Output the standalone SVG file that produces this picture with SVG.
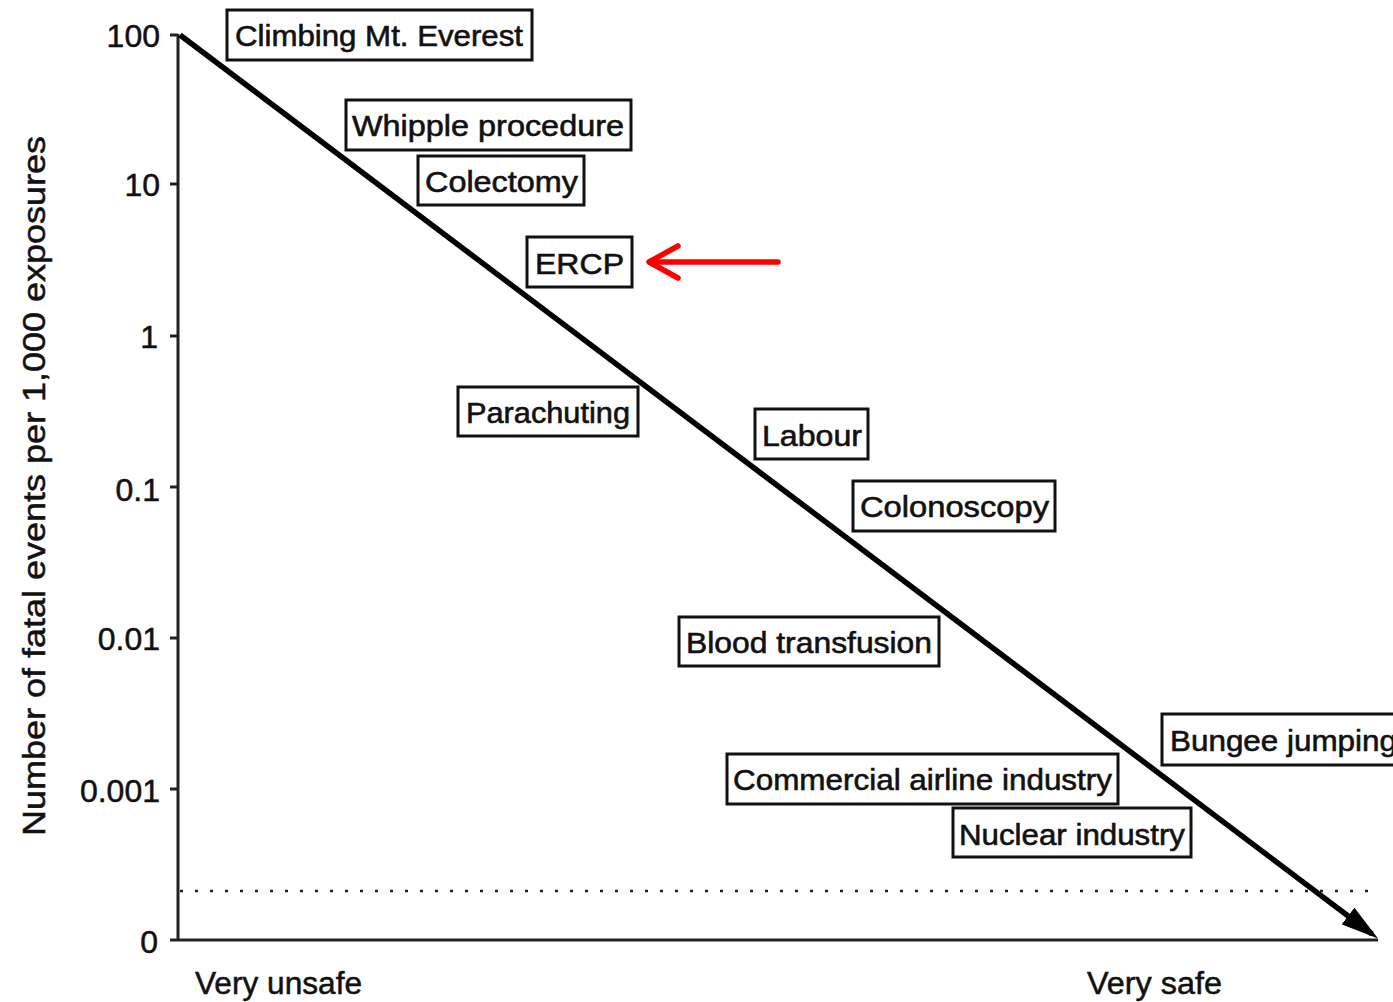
<svg xmlns="http://www.w3.org/2000/svg" width="1393" height="1002" viewBox="0 0 1393 1002">
<style>
  .box rect { fill: #fff; stroke: #111; stroke-width: 3; }
  .box text { font-family: "Liberation Sans", Arial, sans-serif; font-size: 30px; fill: #111; stroke: #111; stroke-width: 0.6; }
  .tick { font-family: "Liberation Sans", Arial, sans-serif; font-size: 32px; fill: #111; stroke: #111; stroke-width: 0.5; text-anchor: end; }
  .axis { stroke: #222; stroke-width: 3; fill: none; }
  .lbl { font-family: "Liberation Sans", Arial, sans-serif; font-size: 31px; fill: #111; stroke: #111; stroke-width: 0.5; }
</style>
<defs>
  <marker id="ah" viewBox="0 0 10 10" refX="8" refY="5" markerWidth="6.8" markerHeight="3.8" preserveAspectRatio="none" markerUnits="strokeWidth" orient="auto">
    <path d="M0,0 L10,5 L0,10 Z" fill="#000"/>
  </marker>
</defs>
<rect width="1393" height="1002" fill="#fff"/>

<g id="axes">
  <line class="axis" x1="178" y1="34" x2="178" y2="941"/>
  <line class="axis" x1="170" y1="940" x2="1378" y2="940"/>
  <g class="axis">
    <line x1="170" y1="35" x2="178" y2="35"/>
    <line x1="170" y1="184" x2="178" y2="184"/>
    <line x1="170" y1="336" x2="178" y2="336"/>
    <line x1="170" y1="487" x2="178" y2="487"/>
    <line x1="170" y1="638" x2="178" y2="638"/>
    <line x1="170" y1="789" x2="178" y2="789"/>
  </g>
  <text class="tick" x="160" y="47">100</text>
  <text class="tick" x="160" y="196">10</text>
  <text class="tick" x="158" y="348">1</text>
  <text class="tick" x="160" y="501">0.1</text>
  <text class="tick" x="160" y="650">0.01</text>
  <text class="tick" x="160" y="802">0.001</text>
  <text class="tick" x="158" y="953">0</text>
  <line x1="180" y1="891" x2="1380" y2="891" stroke="#222" stroke-width="2.5" stroke-dasharray="3 12"/>
  <text class="lbl" x="0" y="0" transform="translate(45,486) rotate(-90)" text-anchor="middle" textLength="700" lengthAdjust="spacingAndGlyphs">Number of fatal events per 1,000 exposures</text>
  <text class="lbl" x="195" y="994" textLength="167" lengthAdjust="spacingAndGlyphs">Very unsafe</text>
  <text class="lbl" x="1087" y="994" textLength="135" lengthAdjust="spacingAndGlyphs">Very safe</text>
</g>

<g id="node-everest" class="box"><rect x="227" y="10" width="305" height="50"/><text x="235" y="46" textLength="288" lengthAdjust="spacingAndGlyphs">Climbing Mt. Everest</text></g>
<g id="node-whipple" class="box"><rect x="346" y="100" width="285" height="50"/><text x="352" y="136" textLength="272" lengthAdjust="spacingAndGlyphs">Whipple procedure</text></g>
<g id="node-colectomy" class="box"><rect x="418" y="156" width="166" height="49"/><text x="425" y="192" textLength="153" lengthAdjust="spacingAndGlyphs">Colectomy</text></g>
<g id="node-ercp" class="box"><rect x="527" y="237" width="105" height="50"/><text x="535" y="274" textLength="89" lengthAdjust="spacingAndGlyphs">ERCP</text></g>
<g id="node-parachuting" class="box"><rect x="458" y="387" width="180" height="49"/><text x="466" y="423" textLength="164" lengthAdjust="spacingAndGlyphs">Parachuting</text></g>
<g id="node-labour" class="box"><rect x="755" y="409" width="113" height="50"/><text x="762" y="446" textLength="100" lengthAdjust="spacingAndGlyphs">Labour</text></g>
<g id="node-colonoscopy" class="box"><rect x="853" y="481" width="202" height="50"/><text x="860" y="517" textLength="189" lengthAdjust="spacingAndGlyphs">Colonoscopy</text></g>
<g id="node-blood" class="box"><rect x="679" y="617" width="260" height="49"/><text x="686" y="653" textLength="246" lengthAdjust="spacingAndGlyphs">Blood transfusion</text></g>
<g id="node-bungee" class="box"><rect x="1162" y="714" width="240" height="51"/><text x="1170" y="751" textLength="227" lengthAdjust="spacingAndGlyphs">Bungee jumping</text></g>
<g id="node-airline" class="box"><rect x="727" y="754" width="391" height="50"/><text x="733" y="790" textLength="379" lengthAdjust="spacingAndGlyphs">Commercial airline industry</text></g>
<g id="node-nuclear" class="box"><rect x="953" y="808" width="238" height="49"/><text x="959" y="845" textLength="226" lengthAdjust="spacingAndGlyphs">Nuclear industry</text></g>

<g id="connectors">
  <line x1="180" y1="35" x2="1372" y2="934" stroke="#000" stroke-width="5.5" marker-end="url(#ah)"/>
  <g stroke="#f00" stroke-width="5.5" stroke-linecap="round" stroke-linejoin="round" fill="none">
    <line x1="778" y1="262" x2="650" y2="262"/>
    <polyline points="678,246 649,262 678,278"/>
  </g>
</g>
</svg>
